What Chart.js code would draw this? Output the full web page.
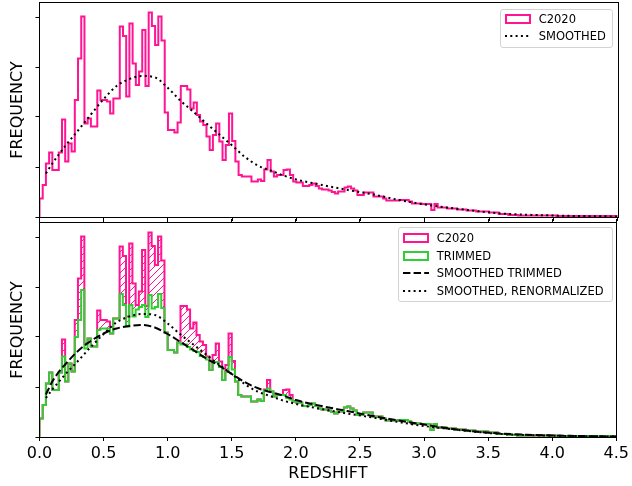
<!DOCTYPE html>
<html>
<head>
<meta charset="utf-8">
<script src="https://cdn.jsdelivr.net/npm/chart.js@4.4.0/dist/chart.umd.min.js"></script>
<style>
body { margin: 0; background: #fff; width: 632px; height: 486px; position: relative; overflow: hidden; font-family: 'DejaVu Sans', sans-serif; }
canvas { position: absolute; left: 0; }
#topChart { top: 0; }
#bottomChart { top: 218px; }
.legend { position: absolute; border: 1px solid #d3d3d3; border-radius: 3px; background: rgba(255,255,255,0.8); box-sizing: border-box; }
.row { position: absolute; height: 18px; line-height: 18px; font-size: 11.5px; color: #000; white-space: nowrap; }
.handle { position: absolute; box-sizing: border-box; }
</style>
</head>
<body>
<canvas id="topChart" width="632" height="222"></canvas>
<canvas id="bottomChart" width="632" height="268"></canvas>
<div class="legend" style="left:500px;top:9px;width:113px;height:39px"></div>
<div class="legend" style="left:398px;top:227px;width:215px;height:75px"></div>
<script>
// histogram bins, 0.025 wide from 0 to 4.5
var binWidth = 0.025;

var c2020 = [
  0.04,
  0.37, 0.64, 1.07, 1.29, 0.94, 0.94, 1.29, 1.95, 1.11, 1.47,
  1.31, 2.34, 3.17, 4.01, 1.87, 1.97, 1.81, 1.81, 2.53, 2.34,
  2.34, 2.31, 2.07, 2.37, 2.37, 3.81, 3.62, 2.41, 3.87, 3.07,
  2.64, 2.91, 3.74, 2.62, 4.09, 3.82, 3.44, 4.01, 3.53, 2.09,
  1.74, 1.74, 1.69, 1.89, 2.62, 2.62, 2.55, 2.17, 2.29, 2.04,
  1.91, 1.84, 1.61, 1.34, 1.64, 1.87, 1.51, 1.14, 1.44, 2.07,
  1.52, 1.11, 0.84, 0.81, 0.81, 0.81, 0.71, 0.71, 0.75, 0.72,
  0.95, 1.14, 0.91, 0.81, 0.84, 0.84, 0.94, 0.95, 0.84, 0.71,
  0.69, 0.69, 0.62, 0.62, 0.64, 0.67, 0.62, 0.57, 0.55, 0.55,
  0.53, 0.50, 0.47, 0.51, 0.51, 0.59, 0.61, 0.57, 0.53, 0.44,
  0.44, 0.49, 0.49, 0.49, 0.41, 0.41, 0.41, 0.37, 0.33, 0.33,
  0.33, 0.33, 0.34, 0.34, 0.34, 0.31, 0.27, 0.27, 0.27, 0.26,
  0.26, 0.26, 0.14, 0.26, 0.19, 0.19, 0.19, 0.17, 0.17, 0.17,
  0.15, 0.15, 0.15, 0.13, 0.13, 0.13, 0.11, 0.11, 0.11, 0.11,
  0.09, 0.09, 0.09, 0.06, 0.06, 0.06, 0.04, 0.04, 0.04, 0.03,
  0.03, 0.03, 0.03, 0.03, 0.03, 0.03, 0.03, 0.03, 0.03, 0.03,
  0.03, 0.02, 0.02, 0.02, 0.02, 0.02, 0.02, 0.02, 0.02, 0.02,
  0.02, 0.02, 0.02, 0.02, 0.02, 0.02, 0.02, 0.02, 0.02
];

var trimmed = [
  0.04,
  0.37, 0.64, 1.07, 1.29, 0.94, 0.94, 1.29, 1.61, 1.11, 1.47,
  1.31, 2.00, 2.34, 2.94, 1.77, 1.97, 1.81, 1.81, 2.14, 2.17,
  2.17, 2.17, 2.07, 2.37, 2.37, 2.86, 2.64, 2.21, 2.64, 2.41,
  2.55, 2.60, 2.64, 2.40, 2.84, 2.57, 2.60, 2.86, 2.58, 2.09,
  1.74, 1.74, 1.69, 1.89, 1.85, 1.85, 1.80, 1.75, 1.72, 1.70,
  1.62, 1.60, 1.55, 1.34, 1.50, 1.50, 1.40, 1.14, 1.30, 1.60,
  1.35, 1.11, 0.84, 0.81, 0.81, 0.81, 0.71, 0.71, 0.75, 0.72,
  0.93, 0.97, 0.91, 0.81, 0.84, 0.84, 0.84, 0.78, 0.75, 0.71,
  0.69, 0.69, 0.62, 0.62, 0.64, 0.67, 0.62, 0.57, 0.55, 0.55,
  0.53, 0.50, 0.47, 0.51, 0.51, 0.59, 0.61, 0.57, 0.53, 0.44,
  0.44, 0.49, 0.49, 0.49, 0.41, 0.41, 0.41, 0.37, 0.33, 0.33,
  0.33, 0.33, 0.34, 0.34, 0.34, 0.31, 0.27, 0.27, 0.27, 0.26,
  0.26, 0.26, 0.14, 0.26, 0.19, 0.19, 0.19, 0.17, 0.17, 0.17,
  0.15, 0.15, 0.15, 0.13, 0.13, 0.13, 0.11, 0.11, 0.11, 0.11,
  0.09, 0.09, 0.09, 0.06, 0.06, 0.06, 0.04, 0.04, 0.04, 0.03,
  0.03, 0.03, 0.03, 0.03, 0.03, 0.03, 0.03, 0.03, 0.03, 0.03,
  0.03, 0.02, 0.02, 0.02, 0.02, 0.02, 0.02, 0.02, 0.02, 0.02,
  0.02, 0.02, 0.02, 0.02, 0.02, 0.02, 0.02, 0.02, 0.02
];

// smoothed curves
var smoothX = [0.05, 0.1, 0.15, 0.2, 0.3, 0.4, 0.5, 0.6, 0.7, 0.8, 0.9, 1.0, 1.1, 1.2, 1.3, 1.4, 1.5,
  1.6, 1.7, 1.8, 1.9, 2.0, 2.2, 2.4, 2.6, 2.8, 3.0, 3.2, 3.4, 3.6, 3.8, 4.0, 4.2, 4.5];
var smoothed = [0.87, 1.07, 1.25, 1.42, 1.73, 2.05, 2.36, 2.62, 2.76, 2.82, 2.79, 2.58, 2.32, 2.10, 1.87, 1.65, 1.43,
  1.20, 1.03, 0.93, 0.83, 0.75, 0.64, 0.54, 0.45, 0.34, 0.25, 0.18, 0.12, 0.07, 0.045, 0.03, 0.02, 0.01];
var smoothedTrimmed = [0.85, 1.11, 1.30, 1.45, 1.72, 1.92, 2.07, 2.17, 2.22, 2.24, 2.19, 2.06, 1.90, 1.74, 1.57, 1.43, 1.26,
  1.10, 0.98, 0.90, 0.83, 0.74, 0.62, 0.52, 0.42, 0.33, 0.25, 0.17, 0.11, 0.07, 0.045, 0.03, 0.02, 0.01];
var smoothedRenorm = [0.78, 0.95, 1.10, 1.25, 1.52, 1.80, 2.06, 2.29, 2.41, 2.46, 2.44, 2.27, 2.05, 1.85, 1.65, 1.45, 1.26,
  1.06, 0.91, 0.82, 0.73, 0.66, 0.56, 0.47, 0.39, 0.30, 0.22, 0.16, 0.105, 0.06, 0.04, 0.026, 0.018, 0.009];

var pink = '#ff1493';
var green = '#32cd32';
var font = 'DejaVu Sans';

function stepPoints(vals) {
  var pts = [{x: 0, y: 0}];
  vals.forEach(function (v, i) { pts.push({x: i * binWidth, y: v}); });
  var end = vals.length * binWidth;
  pts.push({x: end, y: vals[vals.length - 1]});
  pts.push({x: end, y: 0});
  return pts;
}

function curvePoints(ys) {
  return smoothX.map(function (x, i) { return {x: x, y: ys[i]}; });
}

function hatch(color) {
  var c = document.createElement('canvas');
  c.width = 7; c.height = 7;
  var g = c.getContext('2d');
  g.strokeStyle = color;
  g.lineWidth = 1;
  g.beginPath();
  g.moveTo(0, 7); g.lineTo(7, 0);
  g.moveTo(-1, 1); g.lineTo(1, -1);
  g.moveTo(6, 8); g.lineTo(8, 6);
  g.stroke();
  return g.createPattern(c, 'repeat');
}

// matplotlib style frame around the axes
var frame = {
  id: 'frame',
  afterDatasetsDraw: function (chart) {
    var a = chart.chartArea, ctx = chart.ctx;
    ctx.save();
    ctx.strokeStyle = '#000';
    ctx.lineWidth = 1;
    var l = Math.round(a.left) - 0.5, t = Math.round(a.top) - 0.5;
    var r = Math.round(a.right) + 0.5, b = Math.round(a.bottom) + 0.5;
    ctx.strokeRect(l, t, r - l, b - t);
    ctx.restore();
  }
};

function tickGrid() {
  return {drawOnChartArea: false, drawTicks: true, tickLength: 4, color: '#000', lineWidth: 1};
}

function yScale() {
  return {
    min: 0, max: 4.28,
    ticks: {stepSize: 1, display: false, includeBounds: false},
    grid: tickGrid(),
    border: {display: false},
    title: {display: true, text: 'FREQUENCY', color: '#000', font: {family: font, size: 16}, padding: {top: 8.4, bottom: 0}},
    afterFit: function (s) { s.width = 39.5; }
  };
}

var lineBase = {pointRadius: 0, borderWidth: 2, fill: false};

new Chart(document.getElementById('topChart'), {
  type: 'line',
  data: {
    datasets: [
      Object.assign({label: 'SMOOTHED', data: curvePoints(smoothed), borderColor: '#000',
        borderDash: [2, 3.3], cubicInterpolationMode: 'monotone'}, lineBase),
      Object.assign({label: 'C2020', data: stepPoints(c2020), borderColor: pink, stepped: 'after'}, lineBase)
    ]
  },
  options: {
    responsive: false,
    animation: false,
    events: [],
    layout: {padding: {top: 3, right: 14.5, left: 0, bottom: 0}},
    plugins: {legend: {display: false}, tooltip: {enabled: false}},
    scales: {
      x: {
        type: 'linear', min: 0, max: 4.5,
        ticks: {stepSize: 0.5, display: false},
        grid: tickGrid(),
        border: {display: false},
        afterFit: function (s) { s.height = 5; }
      },
      y: yScale()
    }
  },
  plugins: [frame]
});

var bctx = document.getElementById('bottomChart').getContext('2d');

new Chart(bctx, {
  type: 'line',
  data: {
    datasets: [
      Object.assign({label: 'SMOOTHED TRIMMED', data: curvePoints(smoothedTrimmed), borderColor: '#000',
        borderDash: [7.4, 3.2], cubicInterpolationMode: 'monotone'}, lineBase),
      Object.assign({label: 'SMOOTHED, RENORMALIZED', data: curvePoints(smoothedRenorm), borderColor: '#000',
        borderDash: [2, 3.3], cubicInterpolationMode: 'monotone'}, lineBase),
      Object.assign({label: 'TRIMMED', data: stepPoints(trimmed), borderColor: green, stepped: 'after'}, lineBase),
      Object.assign({}, lineBase, {label: 'C2020', data: stepPoints(c2020), borderColor: pink, stepped: 'after',
        fill: 2, backgroundColor: hatch(pink)})
    ]
  },
  options: {
    responsive: false,
    animation: false,
    events: [],
    layout: {padding: {top: 0, right: 14.5, left: 0, bottom: 0}},
    plugins: {legend: {display: false}, tooltip: {enabled: false}, filler: {propagate: false}},
    scales: {
      x: {
        type: 'linear', min: 0, max: 4.5, position: 'bottom',
        ticks: {stepSize: 0.5, color: '#000', padding: 3, font: {family: font, size: 16},
          callback: function (v) { return v.toFixed(1); }},
        grid: tickGrid(),
        border: {display: false},
        title: {display: true, text: 'REDSHIFT', color: '#000', font: {family: font, size: 16}, padding: {top: 0, bottom: 2.4}},
        afterFit: function (s) { s.height = 49; }
      },
      x2: {
        type: 'linear', min: 0, max: 4.5, position: 'top',
        ticks: {stepSize: 0.5, display: false},
        grid: tickGrid(),
        border: {display: false},
        afterFit: function (s) { s.height = 5; }
      },
      y: yScale()
    }
  },
  plugins: [frame]
});

// legends as html, matplotlib style
var legendTop = [
  {label: 'C2020', kind: 'box', color: pink},
  {label: 'SMOOTHED', kind: 'line', dash: '2,3.3'}
];
var legendBottom = [
  {label: 'C2020', kind: 'box', color: pink},
  {label: 'TRIMMED', kind: 'box', color: green},
  {label: 'SMOOTHED TRIMMED', kind: 'line', dash: '7.4,3.2'},
  {label: 'SMOOTHED, RENORMALIZED', kind: 'line', dash: '2,3.3'}
];

function drawLegend(items, left, firstY, step) {
  items.forEach(function (it, i) {
    var cy = firstY + i * step;
    var h;
    if (it.kind === 'box') {
      h = document.createElement('div');
      h.className = 'handle';
      h.style.cssText = 'left:' + (left + 5) + 'px;top:' + (cy - 5) + 'px;width:25.6px;height:10px;border:2px solid ' + it.color + ';';
    } else {
      h = document.createElementNS('http://www.w3.org/2000/svg', 'svg');
      h.setAttribute('width', '26'); h.setAttribute('height', '4');
      h.style.cssText = 'position:absolute;left:' + (left + 5) + 'px;top:' + (cy - 2) + 'px;';
      h.innerHTML = '<line x1="0" y1="2" x2="26" y2="2" stroke="#000" stroke-width="2" stroke-dasharray="' + it.dash + '"/>';
    }
    document.body.appendChild(h);
    var t = document.createElement('div');
    t.className = 'row';
    t.style.left = (left + 38.7) + 'px';
    t.style.top = (cy - 9) + 'px';
    t.textContent = it.label;
    document.body.appendChild(t);
  });
}

drawLegend(legendTop, 500, 18.7, 17.2);
drawLegend(legendBottom, 398, 237.7, 17.8);
</script>
</body>
</html>
